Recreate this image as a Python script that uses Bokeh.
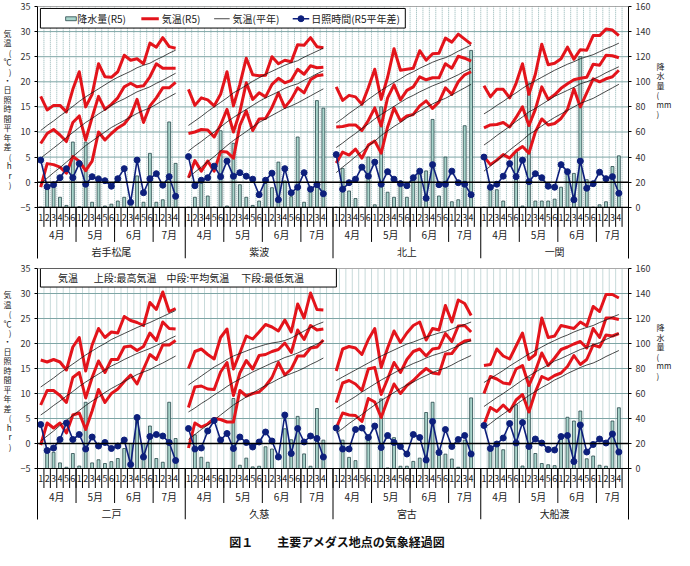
from bokeh.plotting import figure
from bokeh.models import Range1d, LinearAxis, FixedTicker, Div
from bokeh.layouts import column
from bokeh.embed import file_html
from bokeh.resources import INLINE
from bokeh.core.properties import value

FONT = "Noto Sans CJK JP"

# ---------------- data ----------------
MONTHS = ["4月", "5月", "6月", "7月"]
MONTH_PENTADS = [6, 6, 6, 4]
TEMP_TICKS = [-5, 0, 5, 10, 15, 20, 25, 30, 35]
RAIN_TICKS = [0, 20, 40, 60, 80, 100, 120, 140, 160]
TOP_STATIONS = ["岩手松尾", "紫波", "北上", "一関"]
BOTTOM_STATIONS = ["二戸", "久慈", "宮古", "大船渡"]
LEFT_TITLE = "気温(℃)・日照時間平年差(hr)"
RIGHT_TITLE = ["降", "水", "量", "(", "mm", ")"]
CAPTION = "図１　　主要アメダス地点の気象経過図"

# 岩手松尾
s1_tmax = [17.1, 14.4, 15.3, 15.3, 14.0, 18.5, 22.0, 15.0, 17.5, 23.6, 21.0, 20.9, 22.0, 25.3, 24.3, 24.6, 23.6, 27.7, 26.9, 28.8, 27.0, 26.7]
s1_tmean = [7.7, 9.7, 10.5, 9.4, 8.1, 11.9, 13.2, 8.4, 12.9, 17.1, 14.5, 15.5, 16.8, 19.0, 19.7, 19.0, 19.2, 21.0, 23.6, 22.7, 22.7, 22.7]
s1_tmin = [-1.0, 3.7, 3.5, 3.0, 1.8, 5.1, 4.2, 2.3, 4.2, 10.0, 8.4, 9.7, 10.8, 11.6, 13.2, 16.5, 11.9, 15.2, 16.8, 18.8, 18.8, 19.9]
s1_nmax = [10.3, 11.3, 12.2, 13.2, 14.1, 15.1, 16.1, 17.0, 17.8, 18.6, 19.4, 20.2, 20.9, 21.5, 22.1, 22.8, 23.3, 23.7, 24.4, 25.0, 25.7, 26.3]
s1_nmean = [4.8, 5.8, 6.8, 7.8, 8.9, 9.9, 10.9, 11.9, 12.7, 13.6, 14.4, 15.3, 16.0, 16.6, 17.3, 18.0, 18.5, 19.0, 19.7, 20.3, 21.0, 21.7]
s1_nmin = [-0.3, 0.8, 1.9, 2.9, 4.0, 5.1, 6.2, 7.3, 8.2, 9.1, 10.0, 10.9, 11.6, 12.3, 13.0, 13.7, 14.3, 14.8, 15.5, 16.3, 17.0, 17.7]
s1_sun = [4.4, -0.9, -0.5, 0.9, 2.7, 0.9, 3.7, -0.4, 1.1, 0.6, 0.3, -0.8, 0.7, 2.7, -4.0, 4.4, -2.1, 0.7, 1.7, -0.6, 1.1, -2.8]
s1_rain = [0, 18, 16, 8, 1.5, 52, 0.5, 52, 4, 25, 1, 2.5, 5, 8, 3, 25, 4, 43, 4, 6, 68, 35]

# 紫波
s2_tmax = [18.5, 15.3, 16.8, 16.4, 15.2, 17.5, 22.0, 15.2, 19.5, 24.7, 21.4, 21.2, 21.3, 25.0, 23.6, 24.3, 24.0, 27.4, 27.3, 28.8, 27.0, 26.8]
s2_tmean = [9.7, 10.0, 10.5, 10.4, 9.0, 11.4, 14.5, 10.0, 14.0, 19.8, 16.5, 17.8, 17.0, 19.5, 20.7, 19.8, 20.3, 22.5, 21.5, 23.2, 22.8, 22.9]
s2_tmin = [0.9, 4.3, 2.2, 4.2, 2.2, 6.1, 6.0, 4.8, 11.3, 14.2, 10.3, 12.6, 12.7, 14.9, 17.8, 14.9, 16.5, 18.8, 17.8, 20.4, 21.2, 21.4]
s2_nmax = [11.3, 12.2, 13.1, 14.1, 15.0, 15.9, 16.8, 17.8, 18.5, 19.3, 20.1, 20.8, 21.5, 22.1, 22.7, 23.3, 23.8, 24.2, 24.9, 25.5, 26.1, 26.7]
s2_nmean = [6.2, 7.2, 8.1, 9.1, 10.0, 11.0, 12.0, 12.9, 13.7, 14.5, 15.3, 16.1, 16.8, 17.4, 18.0, 18.7, 19.2, 19.6, 20.3, 20.9, 21.6, 22.2]
s2_nmin = [0.9, 2.0, 3.0, 4.1, 5.1, 6.2, 7.3, 8.3, 9.2, 10.1, 11.0, 11.9, 12.6, 13.3, 14.0, 14.7, 15.2, 15.8, 16.5, 17.2, 17.9, 18.6]
s2_sun = [5.1, -0.7, 0.4, 0.9, 3.2, 1.1, 4.2, 1.2, 1.9, 1.2, 0.6, -2.5, 0.4, 1.8, -3.5, 2.7, -2.1, -1.0, 1.9, -1.4, -0.5, -2.3]
s2_rain = [0, 8, 22, 9, 0, 61, 1, 51, 18, 8, 1.5, 5, 19, 15.6, 36, 21, 8.5, 56, 4, 14, 85, 79]

# 北上
s3_tmax = [19.0, 16.3, 17.3, 17.0, 15.5, 18.8, 22.5, 16.5, 20.9, 26.6, 22.3, 22.5, 22.7, 26.2, 24.3, 25.6, 25.7, 28.7, 27.9, 29.5, 28.5, 27.5]
s3_tmean = [11.0, 11.1, 11.4, 11.4, 10.3, 12.3, 14.8, 11.2, 16.8, 19.4, 16.4, 18.3, 19.0, 21.0, 20.4, 20.8, 20.8, 23.6, 22.7, 25.1, 24.7, 24.1]
s3_tmin = [3.8, 6.0, 5.4, 6.6, 4.8, 7.4, 8.2, 5.8, 11.0, 14.8, 12.2, 13.2, 13.5, 15.2, 16.2, 14.7, 16.0, 18.8, 17.5, 20.0, 21.4, 22.0]
s3_nmax = [11.8, 12.7, 13.7, 14.6, 15.5, 16.5, 17.4, 18.3, 19.1, 19.9, 20.6, 21.4, 22.0, 22.7, 23.3, 23.9, 24.4, 24.8, 25.4, 26.1, 26.7, 27.3]
s3_nmean = [6.9, 7.8, 8.8, 9.7, 10.7, 11.6, 12.6, 13.5, 14.3, 15.1, 15.9, 16.7, 17.3, 18.0, 18.6, 19.2, 19.7, 20.2, 20.8, 21.4, 22.1, 22.7]
s3_nmin = [1.9, 3.0, 4.0, 5.1, 6.1, 7.2, 8.2, 9.3, 10.2, 11.1, 11.9, 12.8, 13.5, 14.2, 14.9, 15.6, 16.2, 16.7, 17.4, 18.1, 18.8, 19.5]
s3_sun = [5.5, -1.4, -0.1, 0.6, 3.0, 1.2, 4.0, -0.4, 2.1, 0.6, -0.3, -0.7, 0.9, 2.2, -3.2, 3.5, -0.5, -0.4, 2.2, -0.1, -0.4, -2.5]
s3_rain = [0, 31, 13, 7, 0, 40, 2, 80, 12, 8, 21, 8, 22, 29, 29, 70, 9, 40, 4.4, 6, 65, 125]

# 一関
s4_tmax = [19.2, 17.0, 18.5, 18.5, 16.8, 19.7, 23.6, 17.5, 21.5, 27.5, 23.4, 23.7, 24.6, 26.9, 24.5, 26.4, 26.3, 29.2, 29.2, 30.5, 30.3, 29.2]
s4_tmean = [10.8, 11.4, 11.5, 11.9, 11.0, 12.9, 15.0, 11.3, 14.5, 19.0, 16.5, 17.4, 18.7, 19.6, 20.4, 20.7, 20.9, 23.5, 23.3, 25.3, 25.2, 24.8]
s4_tmin = [5.1, 3.5, 4.4, 5.5, 4.8, 6.2, 7.1, 5.8, 10.0, 12.6, 11.4, 11.7, 12.7, 14.5, 18.6, 15.0, 17.8, 20.6, 20.0, 20.6, 21.0, 22.3]
s4_nmax = [13.6, 14.4, 15.3, 16.1, 17.0, 17.8, 18.7, 19.5, 20.2, 20.9, 21.6, 22.3, 22.9, 23.5, 24.0, 24.6, 25.0, 25.4, 26.0, 26.6, 27.1, 27.7]
s4_nmean = [7.4, 8.3, 9.3, 10.2, 11.1, 12.1, 13.0, 14.0, 14.7, 15.5, 16.3, 17.1, 17.7, 18.3, 18.9, 19.6, 20.0, 20.5, 21.1, 21.8, 22.4, 23.0]
s4_nmin = [2.2, 3.2, 4.3, 5.3, 6.4, 7.4, 8.4, 9.5, 10.3, 11.2, 12.1, 12.9, 13.6, 14.3, 15.0, 15.7, 16.2, 16.7, 17.4, 18.1, 18.8, 19.5]
s4_sun = [5.0, -1.0, -0.4, 1.2, 3.7, 1.1, 4.4, 0.1, 1.7, 0.9, -0.8, -1.0, 3.5, 2.1, -3.5, 4.2, -1.2, -0.3, 2.0, 0.7, 1.1, -2.2]
s4_rain = [0, 16, 14, 5, 0, 44, 1, 99, 5, 5, 5, 6.5, 16, 30, 27, 120, 22, 0, 2, 4.4, 32.5, 41]

# 二戸
s5_tmax = [16.7, 16.3, 16.8, 16.3, 14.7, 19.3, 21.2, 14.5, 19.7, 23.0, 21.2, 22.3, 22.1, 25.4, 24.6, 24.2, 23.6, 28.2, 26.8, 30.3, 26.4, 27.0]
s5_tmean = [7.7, 10.6, 10.6, 9.6, 8.2, 13.2, 14.2, 9.1, 13.2, 16.5, 14.2, 16.8, 16.8, 19.3, 19.5, 18.6, 19.4, 22.1, 20.6, 24.3, 23.0, 22.9]
s5_tmin = [-0.3, 4.1, 3.1, 4.1, 2.1, 5.7, 6.1, 2.8, 6.5, 10.8, 8.2, 10.0, 10.9, 12.4, 13.7, 11.9, 14.9, 17.8, 16.8, 19.7, 19.7, 20.6]
s5_nmax = [11.3, 12.2, 13.1, 14.1, 15.0, 15.9, 16.8, 17.7, 18.5, 19.3, 20.0, 20.8, 21.4, 22.0, 22.6, 23.2, 23.7, 24.2, 24.8, 25.4, 26.0, 26.6]
s5_nmean = [5.7, 6.6, 7.6, 8.5, 9.5, 10.4, 11.4, 12.3, 13.1, 13.9, 14.7, 15.5, 16.1, 16.8, 17.4, 18.0, 18.5, 19.0, 19.6, 20.2, 20.9, 21.5]
s5_nmin = [0.5, 1.5, 2.5, 3.6, 4.6, 5.6, 6.6, 7.6, 8.5, 9.3, 10.2, 11.0, 11.7, 12.4, 13.1, 13.8, 14.3, 14.8, 15.5, 16.1, 16.8, 17.5]
s5_sun = [3.8, -1.4, -0.9, 0.8, 4.1, 0.8, 1.8, -1.1, 1.3, -0.5, 0.2, -1.0, -0.5, 0.7, -4.2, 5.2, -2.7, 1.4, 1.8, 1.5, 0.2, -3.4]
s5_rain = [0, 14, 13, 4.5, 1, 12, 2, 53, 4.5, 7, 4, 5.5, 8, 16, 20, 40, 20, 34, 8, 5, 53, 24]

# 久慈
s6_tmax = [15.0, 18.4, 18.9, 17.8, 16.9, 21.2, 22.9, 14.9, 18.1, 21.5, 20.9, 22.3, 23.8, 23.3, 22.5, 24.7, 22.3, 27.9, 25.1, 30.1, 26.8, 26.7]
s6_tmean = [7.2, 11.3, 11.5, 10.9, 10.8, 14.3, 16.2, 9.6, 14.1, 16.6, 14.9, 17.6, 17.8, 18.4, 18.8, 20.1, 18.2, 22.7, 20.8, 23.6, 22.7, 22.9]
s6_tmin = [-0.9, 4.1, 3.3, 3.9, 5.0, 4.8, 4.3, 4.3, 10.6, 9.5, 10.0, 10.3, 11.5, 13.2, 16.2, 13.7, 14.9, 17.5, 17.5, 19.1, 19.3, 20.7]
s6_nmax = [11.7, 12.6, 13.5, 14.4, 15.3, 16.0, 16.8, 17.5, 18.0, 18.5, 19.0, 19.4, 19.8, 20.1, 20.3, 20.6, 21.1, 21.8, 22.5, 23.2, 23.8, 24.3]
s6_nmean = [6.3, 7.1, 8.0, 8.8, 9.7, 10.5, 11.4, 12.2, 12.9, 13.6, 14.3, 14.9, 15.5, 16.1, 16.6, 17.2, 17.6, 18.1, 18.7, 19.3, 19.9, 20.5]
s6_nmin = [0.8, 1.8, 2.8, 3.7, 4.7, 5.7, 6.7, 7.7, 8.5, 9.3, 10.1, 10.9, 11.6, 12.2, 12.9, 13.5, 14.0, 14.5, 15.1, 15.8, 16.4, 17.1]
s6_sun = [3.0, -1.1, -0.9, 2.5, 4.6, 0.7, 2.0, -1.0, 1.3, 0.2, -0.7, 0.3, 2.3, 0.5, -2.7, 5.7, -2.0, 3.0, 0.3, 1.5, 1.0, -2.7]
s6_rain = [0, 27, 9, 5, 0, 0, 0, 56, 2.6, 8.3, 1.3, 1.8, 17.4, 15.6, 0, 31.8, 23, 41.7, 11.7, 1.8, 48, 22.7]

# 宮古
s7_tmax = [14.5, 18.9, 19.4, 19.1, 17.8, 20.8, 23.0, 15.2, 19.1, 22.5, 20.2, 22.1, 23.6, 24.3, 20.7, 23.0, 22.7, 27.6, 24.3, 28.7, 28.0, 25.6]
s7_tmean = [8.2, 12.1, 12.6, 11.9, 10.6, 14.9, 15.2, 9.8, 12.9, 16.2, 14.2, 16.8, 18.4, 18.9, 17.5, 18.9, 19.1, 22.0, 20.4, 23.5, 23.6, 22.3]
s7_tmin = [3.1, 6.1, 5.7, 5.6, 4.4, 9.0, 8.3, 5.2, 8.7, 11.9, 10.0, 11.6, 12.6, 13.9, 15.0, 14.1, 13.9, 17.9, 18.0, 19.7, 20.5, 20.7]
s7_nmax = [12.6, 13.3, 14.0, 14.7, 15.4, 16.1, 16.8, 17.5, 18.1, 18.7, 19.3, 19.9, 20.3, 20.8, 21.3, 21.7, 22.1, 22.4, 22.9, 23.4, 23.8, 24.3]
s7_nmean = [7.0, 7.8, 8.6, 9.4, 10.3, 11.1, 11.9, 12.7, 13.4, 14.1, 14.8, 15.4, 16.0, 16.5, 17.1, 17.6, 18.0, 18.4, 19.0, 19.5, 20.1, 20.6]
s7_nmin = [2.1, 3.0, 4.0, 4.9, 5.8, 6.8, 7.7, 8.6, 9.4, 10.2, 11.0, 11.7, 12.3, 13.0, 13.6, 14.2, 14.7, 15.1, 15.7, 16.4, 17.0, 17.6]
s7_sun = [3.1, -1.1, -1.1, 2.8, 3.1, 1.2, 3.5, -0.8, 1.6, 0.2, -0.6, -2.1, 1.8, 1.2, -3.3, 4.4, -1.8, 2.8, -0.6, 0.8, 1.6, -2.1]
s7_rain = [0, 22.7, 8.9, 6.3, 0, 22.7, 0, 55.7, 0.5, 24.7, 1.8, 1.8, 5.7, 8.3, 44.8, 53, 12.2, 11.5, 7.6, 1, 22.7, 56.5]

# 大船渡
s8_tmax = [15.6, 15.8, 18.9, 17.5, 16.9, 19.5, 22.1, 16.8, 17.8, 25.1, 21.2, 21.5, 23.6, 23.3, 23.0, 24.3, 23.5, 27.4, 26.4, 29.8, 29.8, 29.1]
s8_tmean = [10.0, 13.4, 12.9, 12.1, 11.9, 14.9, 15.6, 11.6, 14.5, 18.1, 15.6, 17.1, 18.8, 19.3, 19.9, 20.4, 19.1, 23.0, 21.2, 25.1, 25.1, 24.8]
s8_tmin = [3.8, 7.2, 6.4, 7.7, 6.4, 8.7, 9.8, 6.3, 10.3, 13.4, 12.8, 13.6, 14.1, 15.4, 17.6, 15.8, 16.8, 19.7, 19.3, 21.7, 21.5, 22.0]
s8_nmax = [12.2, 13.0, 13.8, 14.6, 15.5, 16.3, 17.1, 17.9, 18.6, 19.3, 20.0, 20.6, 21.2, 21.7, 22.3, 22.8, 23.2, 23.6, 24.2, 24.7, 25.3, 25.8]
s8_nmean = [7.4, 8.3, 9.2, 10.0, 10.9, 11.8, 12.7, 13.5, 14.3, 15.0, 15.7, 16.5, 17.0, 17.6, 18.2, 18.8, 19.2, 19.7, 20.2, 20.8, 21.4, 22.0]
s8_nmin = [3.1, 4.0, 5.0, 5.9, 6.8, 7.8, 8.7, 9.6, 10.4, 11.2, 11.9, 12.7, 13.3, 14.0, 14.6, 15.2, 15.7, 16.1, 16.7, 17.4, 18.0, 18.6]
s8_sun = [3.6, -1.0, -0.1, 1.1, 4.0, 0.1, 4.2, -0.6, 0.9, 0.1, -1.2, -1.3, 1.4, 1.6, -3.6, 3.7, -1.7, -0.2, 0.9, 0.1, 1.9, -1.7]
s8_rain = [0, 16, 18.7, 15, 0, 51, 2, 73, 12, 4, 3, 2.3, 24, 41, 38, 46, 7.8, 10, 2.6, 1.8, 38, 48.6]

TOP_DATA = [
    (s1_tmax, s1_tmean, s1_tmin, s1_nmax, s1_nmean, s1_nmin, s1_sun, s1_rain),
    (s2_tmax, s2_tmean, s2_tmin, s2_nmax, s2_nmean, s2_nmin, s2_sun, s2_rain),
    (s3_tmax, s3_tmean, s3_tmin, s3_nmax, s3_nmean, s3_nmin, s3_sun, s3_rain),
    (s4_tmax, s4_tmean, s4_tmin, s4_nmax, s4_nmean, s4_nmin, s4_sun, s4_rain),
]
BOTTOM_DATA = [
    (s5_tmax, s5_tmean, s5_tmin, s5_nmax, s5_nmean, s5_nmin, s5_sun, s5_rain),
    (s6_tmax, s6_tmean, s6_tmin, s6_nmax, s6_nmean, s6_nmin, s6_sun, s6_rain),
    (s7_tmax, s7_tmean, s7_tmin, s7_nmax, s7_nmean, s7_nmin, s7_sun, s7_rain),
    (s8_tmax, s8_tmean, s8_tmin, s8_nmax, s8_nmean, s8_nmin, s8_sun, s8_rain),
]

# ---------------- style / layout ----------------
SLOT = 23            # 22 pentads + 1 blank slot per station
NCAT = SLOT * 4
YMIN, YMAX = -15.2, 35
RED = "#e3141b"
NAVY = "#0d1f7c"
BAR_FILL = "#a9d4cb"
BAR_LINE = "#27474a"
HGRID = "#7ea5a5"
VGRID = "#8fb4b4"
FL, FR = 40, 649
PXC = (FR - FL) / NCAT
BLANK = "　"


def xd(px):
    return (px - FL) / PXC


def yd(rel):
    # rel: pixel offset below the 35-line in the reference layout
    return 35 - rel / 5.125


def style_axis(ax):
    ax.axis_line_color = "black"
    ax.axis_line_width = 1
    ax.major_tick_line_color = "black"
    ax.major_tick_out = 3
    ax.major_tick_in = 0
    ax.minor_tick_line_color = None
    ax.major_label_text_font = FONT
    ax.major_label_text_font_size = "9px"
    ax.major_label_text_color = "#333333"
    ax.major_label_standoff = 4
    ax.axis_label_orientation = "horizontal"
    ax.axis_label_text_font = FONT
    ax.axis_label_text_font_size = "8px"
    ax.axis_label_text_font_style = "normal"
    ax.axis_label_text_color = "#222222"
    ax.axis_label_text_line_height = 0.86


def make_panel(stations, data, height, bt, bb):
    p = figure(width=674, height=height, x_range=Range1d(0, NCAT), y_range=Range1d(YMIN, YMAX),
               output_backend="svg", toolbar_location=None, x_axis_location=None,
               min_border_left=FL - 8, min_border_right=674 - (FR - 8), min_border_top=bt,
               min_border_bottom=bb)
    p.extra_y_ranges = {"rain": Range1d((YMIN + 5) * 4, 160)}
    p.grid.visible = False
    p.outline_line_color = None
    yax = p.yaxis[0]
    yax.ticker = FixedTicker(ticks=TEMP_TICKS)
    style_axis(yax)
    yax.axis_label = "\n".join(list(LEFT_TITLE) + [BLANK] * 5)
    yax.axis_label_standoff = 6
    rax = LinearAxis(y_range_name="rain", ticker=FixedTicker(ticks=RAIN_TICKS))
    style_axis(rax)
    rax.axis_label = "\n".join(RIGHT_TITLE + [BLANK] * 9)
    rax.axis_label_standoff = 3
    p.add_layout(rax, "right")

    # grid
    ks = list(range(1, NCAT))
    p.segment(x0=ks, x1=ks, y0=[-5] * len(ks), y1=[35] * len(ks), line_color=VGRID,
              line_dash="1 1", line_width=1)
    hy = [t for t in TEMP_TICKS if -5 < t < 35 and t != 0]
    p.segment(x0=[0] * len(hy), x1=[NCAT] * len(hy), y0=hy, y1=hy, line_color=HGRID, line_width=1)
    p.segment(x0=[0], x1=[NCAT], y0=[35], y1=[35], line_color="#555555", line_width=1)

    # category axis separators
    kall = list(range(1, NCAT))
    p.segment(x0=kall, x1=kall, y0=[-5] * len(kall), y1=[-8.9] * len(kall), line_color="black", line_width=1)
    mk = [s * SLOT + m for s in range(4) for m in (6, 12, 18)]
    p.segment(x0=mk, x1=mk, y0=[-5] * len(mk), y1=[-11.9] * len(mk), line_color="black", line_width=1)
    sk = [SLOT * s for s in range(1, 4)]
    p.segment(x0=sk, x1=sk, y0=[-5] * len(sk), y1=[YMIN] * len(sk), line_color="black", line_width=1)

    px_, pt_, mx_, mt_, sx_ = [], [], [], [], []
    for s in range(4):
        off = s * SLOT
        j = 0
        for mi, n in enumerate(MONTH_PENTADS):
            for q in range(n):
                px_.append(off + j + q + 0.5)
                pt_.append(str(q + 1))
            width = n + (1 if mi == 3 else 0)
            mx_.append(off + j + width / 2)
            mt_.append(MONTHS[mi])
            j += n
        sx_.append(off + SLOT / 2)
    tk = dict(text_align="center", text_baseline="middle", text_font=value(FONT),
              text_color="#222222")
    p.text(x=px_, y=[-7.0] * len(px_), text=pt_, text_font_size="9px", **tk)
    p.text(x=mx_, y=[-10.5] * len(mx_), text=mt_, text_font_size="10px", **tk)
    p.text(x=sx_, y=[-13.9] * len(sx_), text=stations, text_font_size="10px", **tk)

    # series
    for s, (tmax, tmean, tmin, nmax, nmean, nmin, sun, rain) in enumerate(data):
        xs = [s * SLOT + j + 0.5 for j in range(len(tmax))]
        p.vbar(x=xs, top=rain, bottom=0, width=0.45, y_range_name="rain",
               fill_color=BAR_FILL, line_color=BAR_LINE, line_width=0.8)
    for s, (tmax, tmean, tmin, nmax, nmean, nmin, sun, rain) in enumerate(data):
        xs = [s * SLOT + j + 0.5 for j in range(len(tmax))]
        for ser in (tmax, tmean, tmin):
            p.line(xs, ser, line_color=RED, line_width=3, line_join="round")
        for ser in (nmax, nmean, nmin):
            p.line(xs, ser, line_color="#1a1a1a", line_width=0.8)
        p.line(xs, sun, line_color=NAVY, line_width=1.6)
        p.scatter(xs, sun, size=6, fill_color=NAVY, line_color=NAVY)

    # zero line / category axis line
    p.segment(x0=[0], x1=[NCAT], y0=[0], y1=[0], line_color="black", line_width=1.6)
    p.segment(x0=[0], x1=[NCAT], y0=[-5], y1=[-5], line_color="black", line_width=1.2)
    return p


p1 = make_panel(TOP_STATIONS, TOP_DATA, 262, 6, 4)
p2 = make_panel(BOTTOM_STATIONS, BOTTOM_DATA, 273, 6, 16)

# legend (top)
lt = dict(text_align="left", text_baseline="middle", text_font=value(FONT),
          text_font_size="10px", text_color="#222222")
p1.quad(left=[xd(43)], right=[xd(419)], top=[yd(2)], bottom=[yd(22)],
        fill_color="white", line_color="black", line_width=1)
ly = yd(12.5)
p1.quad(left=[xd(69)], right=[xd(80)], top=[yd(10.5)], bottom=[yd(14.5)],
        fill_color=BAR_FILL, line_color=BAR_LINE, line_width=0.8)
p1.text(x=[xd(81)], y=[ly], text=["降水量(R5)"], **lt)
p1.line([xd(147), xd(165)], [ly, ly], line_color=RED, line_width=3)
p1.text(x=[xd(168)], y=[ly], text=["気温(R5)"], **lt)
p1.line([xd(222), xd(238)], [ly, ly], line_color="#1a1a1a", line_width=0.8)
p1.text(x=[xd(241)], y=[ly], text=["気温(平年)"], **lt)
p1.line([xd(303), xd(320)], [ly, ly], line_color=NAVY, line_width=1.6)
p1.scatter([xd(311.5)], [ly], size=6, fill_color=NAVY, line_color=NAVY)
p1.text(x=[xd(322)], y=[ly], text=["日照時間(R5平年差)"], **lt)

# note box (bottom)
p2.quad(left=[xd(43)], right=[xd(348)], top=[35], bottom=[yd(19)],
        fill_color="white", line_color="black", line_width=1)
ny = yd(9.5)
p2.text(x=[xd(61)], y=[ny], text=["気温"], **lt)
p2.text(x=[xd(98)], y=[ny], text=["上段:最高気温"], **lt)
p2.text(x=[xd(173)], y=[ny], text=["中段:平均気温"], **lt)
p2.text(x=[xd(250)], y=[ny], text=["下段:最低気温"], **lt)

caption_html = ('<div style="width:674px; text-align:center; '
                f'font-family:\'{FONT}\'; font-size:12px; font-weight:bold; '
                f'line-height:13px; color:#111111;">{CAPTION}</div>')
caption = Div(text=caption_html, width=674, height=15, margin=(0, 0, 0, 0))

layout = column(p1, p2, caption, spacing=0)
open("out.html", "w").write(file_html(layout, INLINE))
